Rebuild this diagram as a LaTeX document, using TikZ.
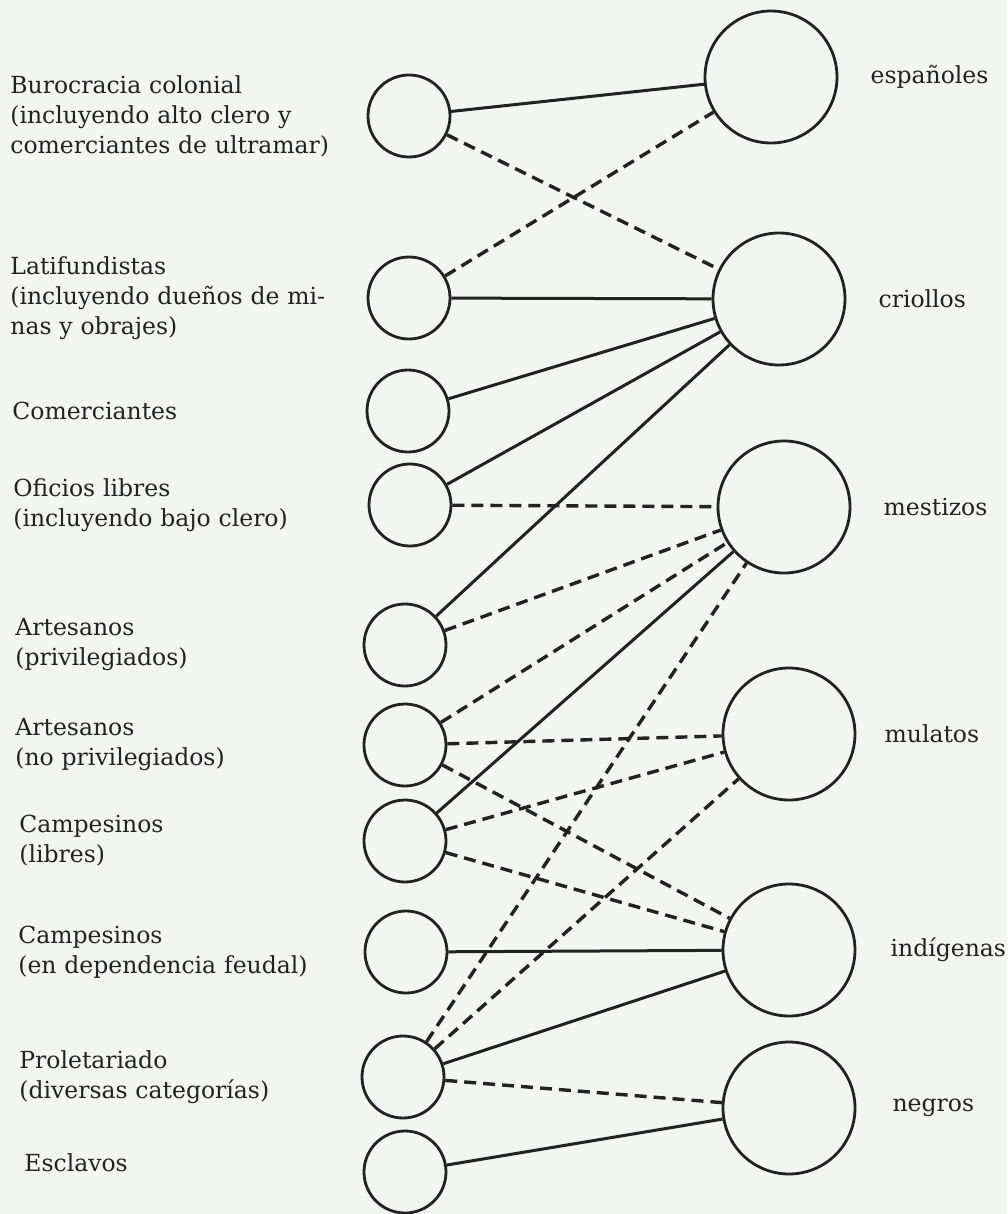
\documentclass[tikz,border=0pt]{standalone}
\usepackage{fontspec}
\setmainfont{DejaVu Serif}
\usepackage{xcolor}
\usepackage{tikz}
\usetikzlibrary{positioning}
\definecolor{papel}{RGB}{243,245,241}
\definecolor{tinta}{RGB}{34,34,34}

\begin{document}
\begin{tikzpicture}[x=1pt, y=-1pt, color=tinta,
    clase/.style={circle, draw, line width=2.8pt, minimum size=82pt, inner sep=0pt},
    casta/.style={circle, draw, line width=2.8pt, minimum size=132pt, inner sep=0pt},
    txt/.style={inner sep=0pt, text width=338pt, align=left, font=\fontsize{23.5}{30}\selectfont},
    rtxt/.style={inner sep=0pt, font=\fontsize{23.5}{30}\selectfont},
    solido/.style={line width=3pt},
    trazos/.style={line width=3.4pt, dash pattern=on 12pt off 7pt}]
  \useasboundingbox (0,0) rectangle (1007,1214);
  \fill[papel] (0,0) rectangle (1007,1214);

  \node [clase] (l1) at (409,116) {};
  \node [clase] (l2) at (409,298) {};
  \node [clase] (l3) at (408,411) {};
  \node [clase] (l4) at (410,505) {};
  \node [clase] (l5) at (405,645) {};
  \node [clase] (l6) at (405,745) {};
  \node [clase] (l7) at (405,841) {};
  \node [clase] (l8) at (406,952) {};
  \node [clase] (l9) at (403,1077) {};
  \node [clase] (l10) at (405,1172) {};

  \node [casta] (r1) at (771,77) {};
  \node [casta] (r2) at (779,299) {};
  \node [casta] (r3) at (784,507) {};
  \node [casta] (r4) at (789,734) {};
  \node [casta] (r5) at (789,950) {};
  \node [casta] (r6) at (789,1108) {};

  \node [txt, left = 18pt of l1] {Burocracia colonial\\(incluyendo alto clero y\\comerciantes de ultramar)};
  \node [txt, left = 18pt of l2] {Latifundistas\\(incluyendo dueños de mi-\\nas y obrajes)};
  \node [txt, left = 15pt of l3] {Comerciantes};
  \node [txt, left = 16pt of l4] {Oficios libres\\(incluyendo bajo clero)};
  \node [txt, left = 9pt of l5] {Artesanos\\(privilegiados)};
  \node [txt, left = 9pt of l6] {Artesanos\\(no privilegiados)};
  \node [txt, left = 5pt of l7] {Campesinos\\(libres)};
  \node [txt, left = 7pt of l8] {Campesinos\\(en dependencia feudal)};
  \node [txt, left = 3pt of l9] {Proletariado\\(diversas categorías)};
  \node [txt, left = 0pt of l10, yshift=9pt] {Esclavos};

  \node [rtxt, right = 32pt of r1] {españoles};
  \node [rtxt, right = 32pt of r2] {criollos};
  \node [rtxt, right = 32pt of r3] {mestizos};
  \node [rtxt, right = 28pt of r4] {mulatos};
  \node [rtxt, right = 34pt of r5] {indígenas};
  \node [rtxt, right = 36pt of r6] {negros};

  \draw [solido] (l1) -- (r1);
  \draw [trazos] (l1) -- (r2);
  \draw [trazos] (l2) -- (r1);
  \draw [solido] (l2) -- (r2);
  \draw [solido] (l3) -- (r2);
  \draw [solido] (l4) -- (r2);
  \draw [trazos] (l4) -- (r3);
  \draw [solido] (l5) -- (r2);
  \draw [trazos] (l5) -- (r3);
  \draw [trazos] (l6) -- (r3);
  \draw [trazos] (l6) -- (r4);
  \draw [trazos] (l6) -- (r5);
  \draw [solido] (l7) -- (r3);
  \draw [trazos] (l7) -- (r4);
  \draw [trazos] (l7) -- (r5);
  \draw [solido] (l8) -- (r5);
  \draw [trazos] (l9) -- (r3);
  \draw [trazos] (l9) -- (r4);
  \draw [solido] (l9) -- (r5);
  \draw [trazos] (l9) -- (r6);
  \draw [solido] (l10) -- (r6);
\end{tikzpicture}
\end{document}
